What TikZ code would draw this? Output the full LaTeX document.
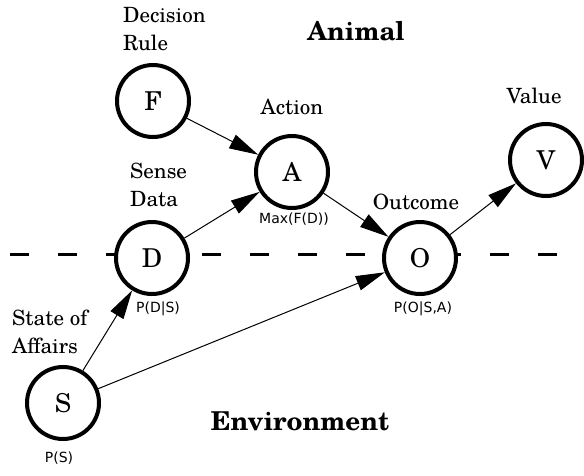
\documentclass[tikz,border=0pt]{standalone}
\usepackage{fontspec}
\setmainfont{TeX Gyre Schola}
\newfontfamily\probFont{DejaVu Sans}
\usetikzlibrary{positioning}
\usetikzlibrary{arrows.meta}
\tikzstyle{diagram} = [x = 1pt, y = -1pt]
\tikzstyle{stateStyle} = [circle, draw = black, fill = white, line width = 4pt, minimum size = 72pt, inner sep = 0pt, font = \fontsize{26}{26}\selectfont]
\tikzstyle{labelText} = [align = left, inner sep = 0pt, font = \fontsize{21}{28}\selectfont]
\tikzstyle{probText} = [inner sep = 0pt, font = \probFont\fontsize{14}{14}\selectfont]
\tikzstyle{regionText} = [inner sep = 0pt, font = \bfseries\fontsize{26}{26}\selectfont]
\tikzstyle{boundaryLine} = [line width = 3pt, dash pattern = on 19pt off 29pt]
\tikzstyle{influenceStyle} = [line width = 1pt, -{Triangle[length = 29pt, width = 15pt]}]
\newcommand{\stateNode}[4]{\node [stateStyle] (#1) at (#2, #3) {#4};}
\newcommand{\influence}[2]{\draw [influenceStyle] (#1) -- (#2);}

\begin{document}
\begin{tikzpicture}[diagram]
  \useasboundingbox (0,0) rectangle (584,475);
  \draw [boundaryLine] (10,254) -- (584,254);

  \stateNode{F}{153}{101}{F}
  \stateNode{D}{152}{258}{D}
  \stateNode{A}{292}{172}{A}
  \stateNode{O}{420}{258}{O}
  \stateNode{V}{546}{160}{V}
  \stateNode{S}{63}{403}{S}

  \node [labelText, anchor = north west] (ruleLabel) at (123,7) {Decision\\Rule};
  \node [labelText, anchor = north west] (senseLabel) at (130,163) {Sense\\Data};
  \node [labelText, anchor = north west] (affairsLabel) at (12,310) {State of\\Affairs};
  \node [labelText, above = 19pt of A] (actionLabel) {Action};
  \node [labelText, above = 18pt of V, xshift = -12pt] (valueLabel) {Value};
  \node [labelText, above = 10pt of O, xshift = -4pt] (outcomeLabel) {Outcome};

  \node [probText, below = 3pt of A, xshift = 2pt] (maxProb) {Max(F(D))};
  \node [probText, below = 6pt of D, xshift = 6pt] (dProb) {P(D|S)};
  \node [probText, below = 6pt of O, xshift = 3pt] (oProb) {P(O|S,A)};
  \node [probText, below = 11pt of S, xshift = -4pt] (sProb) {P(S)};

  \node [regionText, anchor = base] (animal) at (356,40) {Animal};
  \node [regionText, anchor = base] (environment) at (300,430) {Environment};

  \influence{F}{A}
  \influence{D}{A}
  \influence{A}{O}
  \influence{O}{V}
  \influence{S}{D}
  \influence{S}{O}
\end{tikzpicture}
\end{document}
